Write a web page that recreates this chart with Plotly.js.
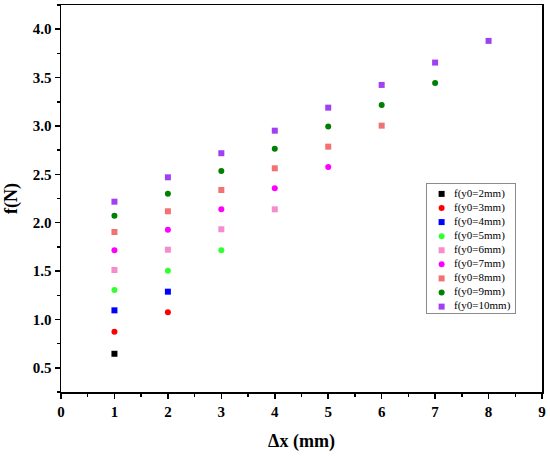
<!DOCTYPE html>
<html>
<head>
<meta charset="utf-8">
<script src="https://cdn.plot.ly/plotly-3.0.1.min.js"></script>
<style>html,body{margin:0;padding:0;background:#fff;}#chart{width:550px;height:458px;}</style>
</head>
<body>
<div id="chart"></div>
<script>
var seriesNames = ["f(y0=2mm)","f(y0=3mm)","f(y0=4mm)","f(y0=5mm)","f(y0=6mm)","f(y0=7mm)","f(y0=8mm)","f(y0=9mm)","f(y0=10mm)"];
var x2mm = [1];
var y2mm = [0.645];
var x3mm = [1, 2];
var y3mm = [0.873, 1.073];
var x4mm = [1, 2];
var y4mm = [1.094, 1.287];
var x5mm = [1, 2, 3];
var y5mm = [1.304, 1.504, 1.714];
var x6mm = [1, 2, 3, 4];
var y6mm = [1.511, 1.721, 1.932, 2.138];
var x7mm = [1, 2, 3, 4, 5];
var y7mm = [1.714, 1.926, 2.138, 2.356, 2.576];
var x8mm = [1, 2, 3, 4, 5, 6];
var y8mm = [1.904, 2.118, 2.338, 2.562, 2.786, 3.003];
var x9mm = [1, 2, 3, 4, 5, 6, 7];
var y9mm = [2.072, 2.300, 2.535, 2.765, 2.993, 3.217, 3.445];
var x10mm = [1, 2, 3, 4, 5, 6, 7, 8];
var y10mm = [2.217, 2.469, 2.718, 2.951, 3.189, 3.424, 3.655, 3.879];
var xTickVals = [0,1,2,3,4,5,6,7,8,9];
var yTickVals = [0.5,1.0,1.5,2.0,2.5,3.0,3.5,4.0];
var yTickText = ["0.5","1.0","1.5","2.0","2.5","3.0","3.5","4.0"];

var xs = [x2mm,x3mm,x4mm,x5mm,x6mm,x7mm,x8mm,x9mm,x10mm];
var ys = [y2mm,y3mm,y4mm,y5mm,y6mm,y7mm,y8mm,y9mm,y10mm];
var colors = ["#000000","#ff0000","#0000ff","#33ff33","#f58ccc","#ff00ff","#f07272","#008000","#a040f0"];
var symbols = ["square","circle","square","circle","square","circle","square","circle","square"];

var font = "Liberation Serif, Times New Roman, serif";
var traces = [];
for (var i = 0; i < seriesNames.length; i++) {
  traces.push({
    type: "scatter", mode: "markers", name: seriesNames[i],
    x: xs[i], y: ys[i],
    marker: {color: colors[i], symbol: symbols[i], size: 6, line: {width: 0}},
    cliponaxis: false, showlegend: false
  });
}

// compact legend box drawn on its own small axes
var legIdx = seriesNames.map(function(_, k){ return k; });
traces.push({
  type: "scatter", mode: "markers", xaxis: "x2", yaxis: "y2",
  x: legIdx.map(function(){ return 0.17; }), y: legIdx,
  marker: {color: colors, symbol: symbols, size: 6, line: {width: 0}},
  showlegend: false, cliponaxis: false, hoverinfo: "skip"
});
traces.push({
  type: "scatter", mode: "text", xaxis: "x2", yaxis: "y2",
  x: legIdx.map(function(){ return 0.31; }), y: legIdx,
  text: seriesNames, textposition: "middle right",
  textfont: {family: font, size: 11, color: "#000"},
  showlegend: false, cliponaxis: false, hoverinfo: "skip"
});

var layout = {
  width: 550, height: 458,
  margin: {l: 61, r: 8, t: 5, b: 66},
  paper_bgcolor: "#fff", plot_bgcolor: "#fff",
  showlegend: false,
  xaxis: {
    range: [0, 9], tickmode: "array", tickvals: xTickVals,
    ticks: "outside", ticklen: 5, tickwidth: 1.5, tickcolor: "#000",
    showline: true, linecolor: "#000", linewidth: 1.5, mirror: true,
    showgrid: false, zeroline: false,
    tickfont: {family: font, size: 15, color: "#000", weight: "bold"},
    minor: {dtick: 0.5, tick0: 0, ticks: "outside", ticklen: 3, tickwidth: 1.5, tickcolor: "#000", showgrid: false},
    title: {text: "<b>Δx (mm)</b>", font: {family: font, size: 18, color: "#000"}, standoff: 16}
  },
  yaxis: {
    range: [0.25, 4.25], tickmode: "array", tickvals: yTickVals, ticktext: yTickText,
    ticks: "outside", ticklen: 5, tickwidth: 1.5, tickcolor: "#000",
    showline: true, linecolor: "#000", linewidth: 1.5, mirror: true,
    showgrid: false, zeroline: false,
    tickfont: {family: font, size: 15, color: "#000", weight: "bold"},
    minor: {dtick: 0.25, tick0: 0.25, ticks: "outside", ticklen: 3, tickwidth: 1.5, tickcolor: "#000", showgrid: false},
    title: {text: "<b>f(N)</b>", font: {family: font, size: 18, color: "#000"}, standoff: 10}
  },
  xaxis2: {
    domain: [0.760, 0.944], anchor: "y2", range: [0, 1],
    showline: true, linecolor: "#8c8c8c", linewidth: 1, mirror: true,
    showticklabels: false, ticks: "", showgrid: false, zeroline: false, fixedrange: true
  },
  yaxis2: {
    domain: [0.205, 0.537], anchor: "x2", range: [8.43, -0.69],
    showline: true, linecolor: "#8c8c8c", linewidth: 1, mirror: true,
    showticklabels: false, ticks: "", showgrid: false, zeroline: false, fixedrange: true
  }
};
Plotly.newPlot("chart", traces, layout, {displayModeBar: false, staticPlot: true});
</script>
</body>
</html>
